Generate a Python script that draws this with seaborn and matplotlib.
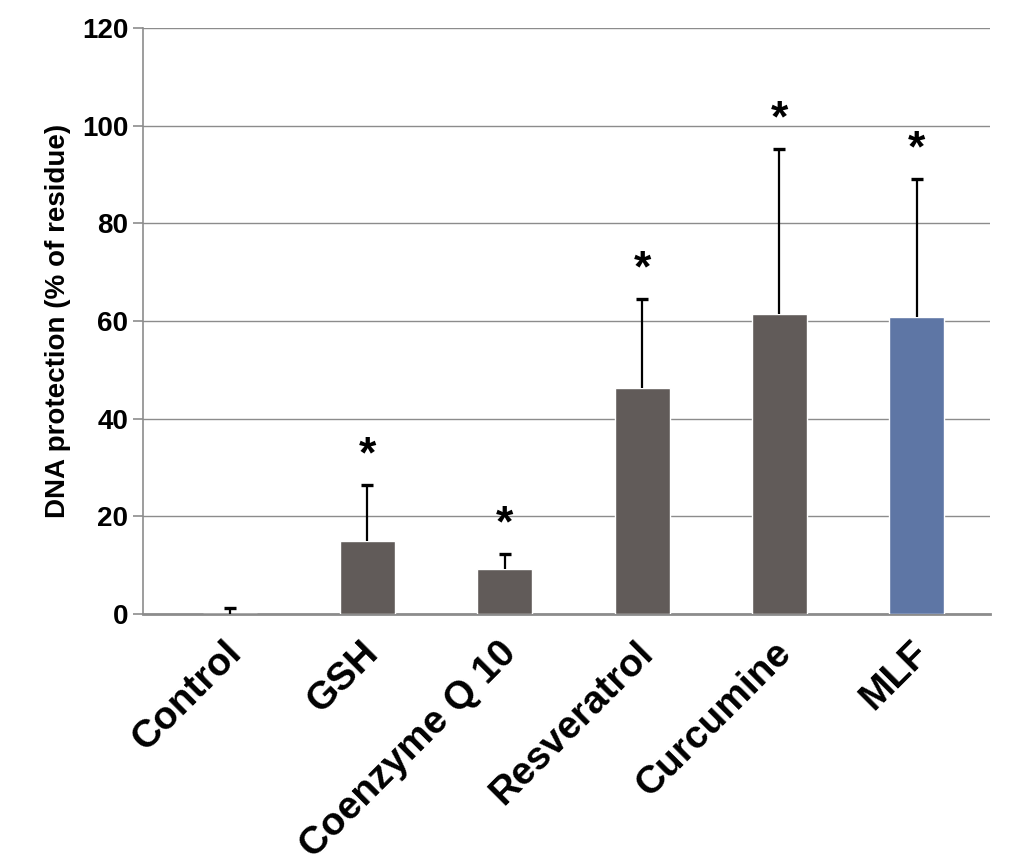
import numpy as np
import matplotlib
matplotlib.use('Agg')
import matplotlib.pyplot as plt
import matplotlib.transforms as mtransforms
import seaborn as sns

# values
treatments = ['Control', 'GSH', 'Coenzyme Q 10', 'Resveratrol', 'Curcumine', 'MLF']
protection = [0.0, 15.0, 9.3, 46.3, 61.4, 60.9]
sd_upper = [1.2, 11.4, 2.9, 18.2, 33.8, 28.2]
significant = [False, True, True, True, True, True]
bar_colors = ['#615b59', '#615b59', '#615b59', '#615b59', '#615b59', '#5e76a5']
yticks = [0, 20, 40, 60, 80, 100, 120]

sns.set_style('white')
plt.rcParams['font.family'] = ['Liberation Sans', 'DejaVu Sans']
plt.rcParams['font.weight'] = 'bold'
plt.rcParams['text.color'] = 'black'
plt.rcParams['axes.labelcolor'] = 'black'
plt.rcParams['xtick.color'] = 'black'
plt.rcParams['ytick.color'] = 'black'

fig = plt.figure(figsize=(10.24, 8.64), dpi=100)
ax = fig.add_axes([0.1396, 0.2894, 0.8274, 0.6782])

sns.barplot(x=treatments, y=protection, hue=treatments, palette=bar_colors,
            width=0.4, saturation=1, legend=False, ax=ax, zorder=3)

# one-sided (upper) error bars, cap only at the top
x = np.arange(len(treatments))
tops = np.add(protection, sd_upper)
ax.errorbar(x, protection, yerr=[np.zeros(len(sd_upper)), sd_upper], fmt='none',
            ecolor='black', elinewidth=1.6, capsize=0, zorder=4)
ax.plot(x, tops, linestyle='none', marker='_', markersize=9, markeredgewidth=2.4,
        color='black', zorder=4)

for i, (t, s) in enumerate(zip(tops, significant)):
    if s:
        ax.annotate('*', xy=(i, t), xytext=(0, 21), textcoords='offset points',
                    ha='center', va='center', fontsize=32, fontweight='bold')

ax.set_ylim(0, 120)
ax.set_xlim(-0.634, 5.535)
ax.set_yticks(yticks)
ax.set_yticklabels([str(t) for t in yticks], fontsize=20, fontweight='bold')
ax.yaxis.grid(True, color='#8c8c8c', linewidth=1.0, zorder=0)
ax.set_axisbelow(True)

for side in ['top', 'right']:
    ax.spines[side].set_visible(False)
ax.spines['left'].set_color('#8c8c8c')
ax.spines['left'].set_linewidth(1.2)
ax.spines['bottom'].set_color('#8c8c8c')
ax.spines['bottom'].set_linewidth(2.0)

ax.tick_params(axis='y', direction='out', length=7, width=1.2, color='#8c8c8c',
               labelcolor='black', pad=3.5, left=True)
ax.tick_params(axis='x', length=0, pad=24, labelcolor='black')
ax.set_xticks(x)
ax.set_xticklabels(treatments, rotation=45, ha='right', va='center',
                   rotation_mode='anchor', fontsize=28, fontweight='bold')
shift = mtransforms.ScaledTranslation(0.06, 0, fig.dpi_scale_trans)
for lbl in ax.get_xticklabels():
    lbl.set_transform(lbl.get_transform() + shift)

ax.set_ylabel('DNA protection (% of residue)', fontsize=20, fontweight='bold', labelpad=8)
ax.set_xlabel('')

fig.savefig('out.png', dpi=100)
